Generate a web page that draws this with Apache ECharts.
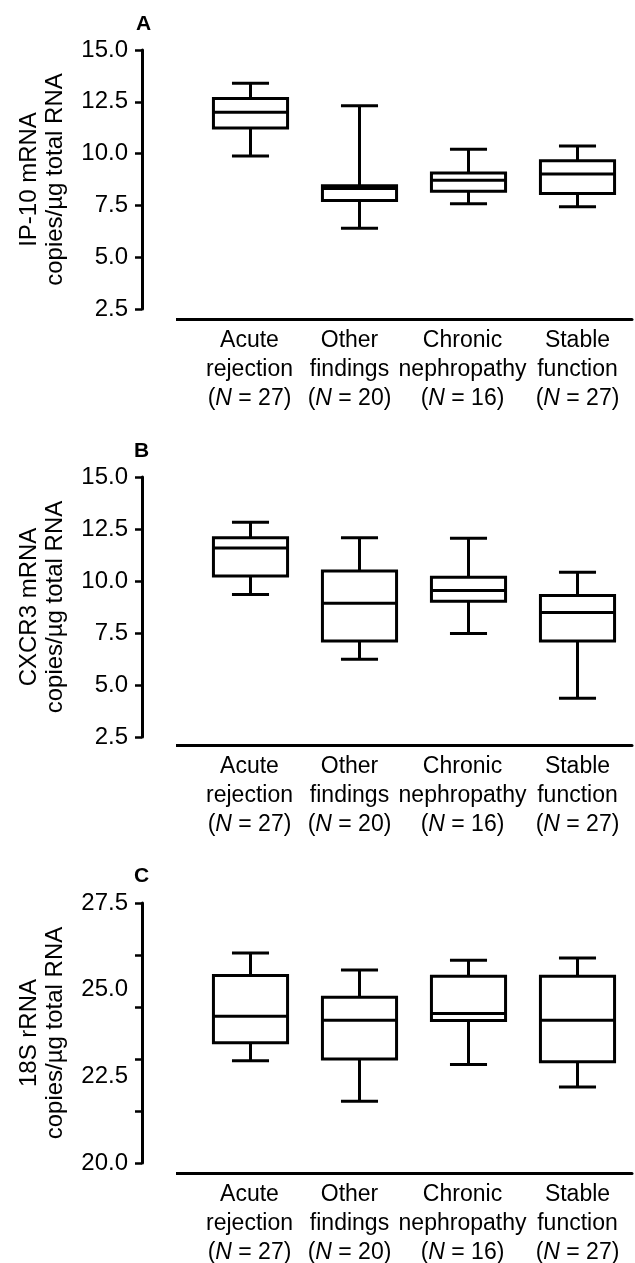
<!DOCTYPE html>
<html>
<head>
<meta charset="utf-8">
<script src="https://cdn.jsdelivr.net/npm/echarts@6/dist/echarts.min.js"></script>
<style>
  html, body { margin: 0; padding: 0; background: #fff; }
  #chart { width: 635px; height: 1263px; }
</style>
</head>
<body>
<div id="chart"></div>
<script>
const categories = ["Acute\nrejection", "Other\nfindings", "Chronic\nnephropathy", "Stable\nfunction"];
const groupN = [27, 20, 16, 27];

// [min, Q1, median, Q3, max] per group
const ip10Stats = [
  [9.89, 11.24, 11.99, 12.66, 13.39],
  [6.40, 7.74, 8.32, 8.45, 12.31],
  [7.58, 8.18, 8.71, 9.06, 10.21],
  [7.44, 8.07, 9.02, 9.66, 10.37],
];
const cxcr3Stats = [
  [9.35, 10.24, 11.59, 12.08, 12.83],
  [6.24, 7.12, 8.93, 10.48, 12.08],
  [7.48, 9.03, 9.54, 10.18, 12.06],
  [4.36, 7.12, 8.48, 9.30, 10.42],
];
const rrnaStats = [
  [22.95, 23.47, 24.23, 25.41, 26.06],
  [21.78, 23.00, 24.12, 24.78, 25.57],
  [22.84, 24.11, 24.31, 25.39, 25.85],
  [22.19, 22.92, 24.12, 25.39, 25.91],
];

const mrnaTicks = [2.5, 5, 7.5, 10, 12.5, 15];
const rrnaLabels = [20, 22.5, 25, 27.5];
const rrnaTicks = [20, 21.5, 23, 24.5, 26, 27.5];

const FONT = '"Liberation Sans", Arial, sans-serif';
const panels = [
  { letter: "A", name: "IP-10 mRNA\ncopies/µg total RNA", stats: ip10Stats, labels: mrnaTicks, ticks: mrnaTicks, top: 50, height: 259, xGap: 10, ly: 14 },
  { letter: "B", name: "CXCR3 mRNA\ncopies/µg total RNA", stats: cxcr3Stats, labels: mrnaTicks, ticks: mrnaTicks, top: 477, height: 260, xGap: 8, ly: 441 },
  { letter: "C", name: "18S rRNA\ncopies/µg total RNA", stats: rrnaStats, labels: rrnaLabels, ticks: rrnaTicks, top: 903, height: 260, xGap: 10, ly: 866 },
];

const labelShift = [2, 20, 12, 0];

const renderBox = (params, api) => {
  const x = api.value(0);
  const p = [1, 2, 3, 4, 5].map((d) => api.coord([x, api.value(d)]));
  const cx = p[0][0];
  const bw = api.size([1, 0])[0] * 0.68;
  const cw = bw * 0.5;
  const st = { stroke: "#000", lineWidth: 3, fill: null };
  const ln = (x1, y1, x2, y2) => ({ type: "line", shape: { x1, y1, x2, y2 }, style: st });
  return {
    type: "group",
    children: [
      { type: "rect", shape: { x: cx - bw / 2, y: p[3][1], width: bw, height: p[1][1] - p[3][1] }, style: st },
      ln(cx - bw / 2, p[2][1], cx + bw / 2, p[2][1]),
      ln(cx, p[3][1], cx, p[4][1]),
      ln(cx - cw / 2, p[4][1], cx + cw / 2, p[4][1]),
      ln(cx, p[1][1], cx, p[0][1]),
      ln(cx - cw / 2, p[0][1], cx + cw / 2, p[0][1]),
    ],
  };
};

const option = {
  animation: false,
  textStyle: { fontFamily: FONT, color: "#000" },
  grid: panels.map((p) => ({
    left: 196,
    right: 3,
    top: p.top,
    height: p.height,
    outerBoundsMode: "none",
    containLabel: false,
  })),
  xAxis: panels.map((p, i) => ({
    type: "category",
    gridIndex: i,
    data: categories.map((c, k) => ({
      value: c,
      textStyle: { padding: [0, labelShift[k], 0, 0] },
    })),
    offset: p.xGap,
    axisLine: { lineStyle: { color: "#000", width: 3 } },
    axisTick: { show: false },
    axisLabel: {
      interval: 0,
      margin: 7,
      fontFamily: FONT,
      fontSize: 23,
      lineHeight: 29,
      color: "#000",
      formatter: (v, k) => v + "\n({i|N} = " + groupN[k] + ")",
      rich: { i: { fontStyle: "italic", fontFamily: FONT, fontSize: 23, lineHeight: 29, color: "#000" } },
    },
  })),
  yAxis: panels.map((p, i) => ({
    type: "value",
    gridIndex: i,
    min: p.ticks[0],
    max: p.ticks[p.ticks.length - 1],
    offset: 54,
    name: p.name,
    nameLocation: "middle",
    nameRotate: 90,
    nameGap: 74,
    nameTextStyle: { fontFamily: FONT, fontSize: 24, lineHeight: 26, color: "#000" },
    splitLine: { show: false },
    axisLine: { show: true, lineStyle: { color: "#000", width: 3 } },
    axisTick: { show: true, length: 7, customValues: p.ticks, lineStyle: { color: "#000", width: 2.5 } },
    axisLabel: {
      customValues: p.labels,
      margin: 14,
      fontFamily: FONT,
      fontSize: 24,
      color: "#000",
      formatter: (v) => v.toFixed(1),
    },
  })),
  series: panels.map((p, i) => ({
    type: "custom",
    xAxisIndex: i,
    yAxisIndex: i,
    renderItem: renderBox,
    encode: { x: 0, y: [1, 2, 3, 4, 5] },
    data: p.stats.map((s, k) => [k].concat(s)),
  })),
  graphic: panels.flatMap((p) => {
    const y = p.top + p.height + p.xGap + 0.5;
    return [
      { type: "line", shape: { x1: 176, y1: y, x2: 200, y2: y }, style: { stroke: "#000", lineWidth: 3 } },
      {
        type: "text",
        x: p.letter === "A" ? 136 : 134,
        y: p.ly,
        style: { text: p.letter, fontSize: 21, fontWeight: "bold", fontFamily: FONT, fill: "#000" },
      },
    ];
  }),
};

const chart = echarts.init(document.getElementById("chart"));
chart.setOption(option);
</script>
</body>
</html>
